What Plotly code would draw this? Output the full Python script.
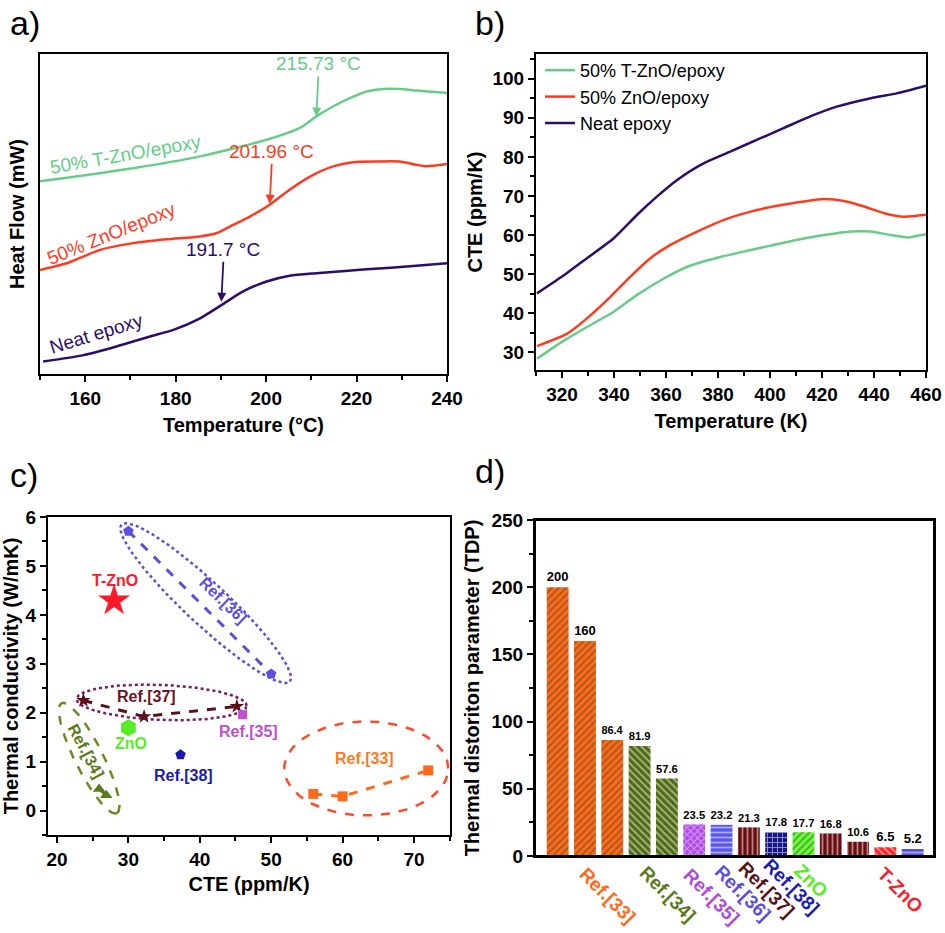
import numpy as np
import plotly.graph_objects as go

W, H = 945, 933
FONT = "Liberation Sans, Arial, sans-serif"

# ---------------- Panel a data (DSC, arbitrary heat-flow units) ----------------
a_T_tzno = [150, 170.6, 185.4, 200.1, 207.5, 211.1, 214.8, 218.5, 222.2, 225.9, 229.5, 233.2, 240]
a_y_tzno = [60.2, 64.3, 68.0, 73.2, 76.9, 80.5, 83.6, 86.2, 88.3, 89.1, 89.1, 88.6, 87.8]
a_T_zno = [150, 155.9, 163.3, 170.6, 178, 185.4, 189, 192.7, 196.4, 200.8, 205.2, 209.7, 214.8, 219.2, 224.4, 229.5, 233.2, 235.4, 240]
a_y_zno = [32.5, 34.6, 38.8, 40.9, 42.1, 43.0, 44.0, 46.6, 49.2, 52.9, 57.6, 61.7, 64.9, 66.2, 66.4, 66.4, 65.4, 64.9, 65.6]
a_T_neat = [150.7, 159.6, 166.9, 174.3, 179.5, 185.4, 190.2, 194.9, 200.1, 205.2, 211.1, 222.2, 233.2, 240]
a_y_neat = [3.9, 5.9, 8.6, 11.7, 13.8, 17.4, 21.6, 25.8, 28.9, 30.7, 31.5, 32.7, 33.8, 34.6]
a_tg = [211.1, 200.8, 190.1]
a_tg_y = [80.5, 53.2, 22.6]
a_tg_labels = ["215.73 °C", "201.96 °C", "191.7 °C"]

# ---------------- Panel b data (CTE) ----------------
b_T_neat = [310.4, 320, 329.6, 339.9, 348.9, 356.6, 364.3, 374.6, 384.9, 395.1, 405.4, 415.7, 426, 438.8, 449.1, 460]
b_y_neat = [45.1, 49.4, 54.1, 59.2, 65.2, 69.9, 74.1, 78.4, 81.4, 84.4, 87.4, 90.4, 92.9, 95.0, 96.3, 98.2]
b_T_zno = [310.4, 322, 329.6, 338.6, 346.3, 354, 361.7, 372, 382.3, 392.6, 402.8, 413.1, 420.8, 428.5, 436.2, 443.9, 451.6, 460]
b_y_zno = [31.6, 34.8, 38.7, 44.2, 49.4, 54.1, 57.5, 60.9, 63.9, 66.0, 67.5, 68.6, 69.2, 68.7, 67.3, 65.6, 64.7, 65.2]
b_T_tzno = [310.4, 320, 329.6, 339.9, 348.9, 359.2, 368.2, 379.7, 390, 400.3, 410.6, 420.8, 431.1, 438.8, 446.5, 452.9, 460]
b_y_tzno = [28.4, 32.7, 36.5, 40.4, 44.7, 48.9, 51.9, 54.2, 55.8, 57.3, 58.8, 60.0, 60.9, 60.9, 60.0, 59.4, 60.2]

# ---------------- Panel c data (TC vs CTE) ----------------
c_tzno_x, c_tzno_y = [28.0], [4.29]
c_r36_x, c_r36_y = [30.0, 50.0], [5.71, 2.79]
c_r37_x, c_r37_y = [23.7, 32.2, 45.2], [2.25, 1.92, 2.13]
c_r35_x, c_r35_y = [46.0], [1.96]
c_zno_x, c_zno_y = [30.0], [1.69]
c_r38_x, c_r38_y = [37.3], [1.14]
c_r34_x, c_r34_y = [25.9, 26.9], [0.44, 0.31]
c_r33_x, c_r33_y = [55.9, 60.0, 72.0], [0.34, 0.29, 0.82]

# ---------------- Panel d data (TDP) ----------------
d_idx = list(range(1, 15))
d_vals = [200, 160, 86.4, 81.9, 57.6, 23.5, 23.2, 21.3, 17.8, 17.7, 16.8, 10.6, 6.5, 5.2]
d_colors = ["#ff6a12", "#ff6a12", "#ff6a12", "#4f6b12", "#4f6b12", "#b04ae8", "#5858f0",
            "#6a0c0c", "#16168a", "#66ff33", "#6a0c0c", "#6a0c0c", "#ff2222", "#5050f0"]
d_patterns = ["/", "/", "/", "\\", "\\", "x", "-", "|", "+", "/", "|", "|", "\\", "-"]
d_group_labels = ["Ref.[33]", "Ref.[34]", "Ref.[35]", "Ref.[36]", "Ref.[37]", "Ref.[38]", "ZnO", "T-ZnO"]
d_group_colors = ["#ff6a1a", "#5a7a1a", "#b24ad8", "#5b4ee0", "#5a0f12", "#1a1ab8", "#55ee22", "#ff1a2a"]
d_group_px = [(607.5, 895), (668.3, 894), (711.7, 896), (743.3, 893),
              (766.7, 889), (791.7, 886), (810.7, 880.7), (900.7, 890)]

GREEN, RED, NAVY = "#66cc88", "#ff3b1f", "#2b0d6b"


def dom_x(a, b):
    return [a / W, b / W]


def dom_y(top, bottom):
    return [1 - bottom / H, 1 - top / H]


fig = go.Figure()

# ---- Panel a traces
for T, y, c in [(a_T_tzno, a_y_tzno, GREEN), (a_T_zno, a_y_zno, RED), (a_T_neat, a_y_neat, NAVY)]:
    fig.add_trace(go.Scatter(x=T, y=y, mode="lines", line=dict(color=c, width=2.5, shape="spline", smoothing=0.6),
                             xaxis="x", yaxis="y", showlegend=False))

# ---- Panel b traces
for T, y, c, name in [(b_T_tzno, b_y_tzno, GREEN, "50% T-ZnO/epoxy"),
                      (b_T_zno, b_y_zno, RED, "50% ZnO/epoxy"),
                      (b_T_neat, b_y_neat, NAVY, "Neat epoxy")]:
    fig.add_trace(go.Scatter(x=T, y=y, mode="lines", name=name,
                             line=dict(color=c, width=2.5, shape="spline", smoothing=0.6),
                             xaxis="x2", yaxis="y2", showlegend=True))

# ---- Panel c: ellipses
SX = 402 / (75.05 - 18.74)
SY = 318 / 6.5


def ellipse(cx, cy, a, b, ang, n=160):
    t = np.linspace(0, 2 * np.pi, n)
    r = np.deg2rad(ang)
    ex, ey = a * np.cos(t), b * np.sin(t)
    return cx + (ex * np.cos(r) - ey * np.sin(r)) / SX, cy + (ex * np.sin(r) + ey * np.cos(r)) / SY


for (cx, cy, a, b, ang, col, dash) in [
    (40.83, 4.24, 115, 21, -43, "#5b4ee0", "dot"),
    (34.66, 2.21, 85, 17.5, -2.3, "#7a1a5a", "dot"),
    (24.51, 1.07, 61.5, 14, -63.4, "#6b8c21", "dash"),
    (63.32, 0.86, 82, 47, 0, "#ff4a2a", "dash"),
]:
    ex, ey = ellipse(cx, cy, a, b, ang)
    fig.add_trace(go.Scatter(x=ex, y=ey, mode="lines", line=dict(color=col, width=2.5, dash=dash),
                             xaxis="x3", yaxis="y3", showlegend=False, hoverinfo="skip"))

# ---- Panel c: series
c_series = [
    (c_r36_x, c_r36_y, "#5b4ee0", "pentagon", 11, "lines+markers", "dash"),
    (c_r37_x, c_r37_y, "#5a0f1a", "star", 11, "lines+markers", "dash"),
    (c_r33_x, c_r33_y, "#ff6a1a", "square", 10, "lines+markers", "dash"),
    (c_r34_x, c_r34_y, "#5a7a1a", "triangle-up", 11, "lines+markers", "dash"),
    (c_r35_x, c_r35_y, "#c050d0", "square", 9, "markers", None),
    (c_r38_x, c_r38_y, "#1a1ab0", "pentagon", 11, "markers", None),
    (c_zno_x, c_zno_y, "#55ee22", "hexagon", 17, "markers", None),
    (c_tzno_x, c_tzno_y, "#ff1a2a", "star", 24, "markers", None),
]
for x, y, col, sym, sz, mode, dash in c_series:
    fig.add_trace(go.Scatter(x=x, y=y, mode=mode, marker=dict(color=col, symbol=sym, size=sz, line=dict(width=0)),
                             line=dict(color=col, width=3, dash=dash or "solid"),
                             xaxis="x3", yaxis="y3", showlegend=False))

# ---- Panel d bars
fig.add_trace(go.Bar(x=d_idx, y=d_vals, width=0.8,
                     marker=dict(color=d_colors, line=dict(width=0),
                                 pattern=dict(shape=d_patterns, fgcolor="#111111", size=5, solidity=0.35)),
                     text=[f"{v:g}" for v in d_vals], textposition="outside",
                     textfont=dict(size=13, color="black", family=FONT, weight="bold"),
                     cliponaxis=False, xaxis="x4", yaxis="y4", showlegend=False))

tickfont = dict(family=FONT, size=19, color="black", weight="bold")
titlefont = dict(family=FONT, size=20, color="black", weight="bold")
frame = dict(showline=True, linecolor="black", linewidth=2, mirror=True, showgrid=False, zeroline=False,
             automargin=False, ticks="outside", ticklen=6, tickwidth=1.5, tickcolor="black", tickfont=tickfont)
minor = lambda d: dict(dtick=d, ticks="outside", ticklen=4, tickwidth=1.5, tickcolor="black")

fig.update_layout(
    width=W, height=H, margin=dict(l=0, r=0, t=0, b=0), paper_bgcolor="white", plot_bgcolor="white",
    font=dict(family=FONT, color="black"),
    xaxis=dict(frame, anchor="y", domain=dom_x(40, 447), range=[150, 240], dtick=20, tick0=160, minor=minor(10),
               title=dict(text="Temperature (°C)", font=titlefont, standoff=10)),
    yaxis=dict(frame, anchor="x", domain=dom_y(54, 374), range=[0, 100], showticklabels=False, ticks="",
               title=dict(text="Heat Flow (mW)", font=titlefont, standoff=8)),
    xaxis2=dict(frame, anchor="y2", domain=dom_x(536, 926), range=[310, 460], dtick=20, tick0=320, minor=minor(10),
                title=dict(text="Temperature (K)", font=titlefont, standoff=10)),
    yaxis2=dict(frame, anchor="x2", domain=dom_y(54, 370), range=[25.5, 106.3], dtick=10, tick0=30, minor=minor(5),
                title=dict(text="CTE (ppm/K)", font=titlefont, standoff=4)),
    xaxis3=dict(frame, anchor="y3", domain=dom_x(48, 450), range=[18.74, 75.05], dtick=10, tick0=20, minor=minor(5),
                title=dict(text="CTE (ppm/K)", font=titlefont, standoff=8)),
    yaxis3=dict(frame, anchor="x3", domain=dom_y(517, 835), range=[-0.5, 6], dtick=1, tick0=0, minor=minor(0.5),
                title=dict(text="Thermal conductivity (W/mK)", font=titlefont, standoff=6)),
    xaxis4=dict(frame, anchor="y4", domain=dom_x(535, 934), range=[0.17, 14.78], showticklabels=False, ticks=""),
    yaxis4=dict(frame, anchor="x4", domain=dom_y(520, 856), range=[0, 250], dtick=50, tick0=0, minor=minor(25),
                title=dict(text="Thermal distoriton parameter (TDP)", font=titlefont, standoff=6)),
    legend=dict(x=540 / W, y=1 - 52 / H, xanchor="left", yanchor="top", bgcolor="rgba(0,0,0,0)",
                font=dict(family=FONT, size=18), tracegroupgap=0, itemwidth=30),
    bargap=0.2,
    shapes=[dict(type="rect", xref="x4 domain", yref="y4 domain", x0=0, x1=1, y0=0, y1=1,
                 line=dict(color="black", width=2), fillcolor="rgba(0,0,0,0)", layer="above")],
)

ann = []
# Panel labels
for txt, px, py in [("a)", 25, 23), ("b)", 490, 23), ("c)", 24, 475), ("d)", 490, 471)]:
    ann.append(dict(text=txt, x=px / W, y=1 - py / H, xref="paper", yref="paper", showarrow=False,
                    font=dict(family=FONT, size=34, color="black"), xanchor="center", yanchor="middle"))

# Panel a: Tg arrows
for T, y, lab, col in zip(a_tg, a_tg_y, a_tg_labels, [GREEN, RED, NAVY]):
    ann.append(dict(x=T, y=y, xref="x", yref="y", text=lab, showarrow=True, arrowhead=2, arrowsize=1,
                    arrowwidth=1.8, arrowcolor=col, ax=2, ay=-40, yanchor="bottom",
                    font=dict(family=FONT, size=19, color=col)))
# Panel a: curve labels
for txt, x, y, ang, col in [("50% T-ZnO/epoxy", 168.8, 68.5, -10, GREEN),
                            ("50% ZnO/epoxy", 165.8, 44.0, -22, RED),
                            ("Neat epoxy", 162.5, 12.7, -17, NAVY)]:
    ann.append(dict(x=x, y=y, xref="x", yref="y", text=txt, showarrow=False, textangle=ang,
                    xanchor="center", yanchor="middle", font=dict(family=FONT, size=19, color=col)))

# Panel c labels
for txt, x, y, col, ang in [("T-ZnO", 28.12, 4.71, "#ff1a2a", 0), ("Ref.[36]", 43.3, 4.30, "#5b4ee0", 44),
                            ("Ref.[37]", 32.47, 2.34, "#6a1520", 0), ("ZnO", 30.32, 1.38, "#55ee22", 0),
                            ("Ref.[38]", 37.69, 0.72, "#1a1ab0", 0), ("Ref.[35]", 46.8, 1.61, "#c050d0", 0),
                            ("Ref.[33]", 63.1, 1.07, "#ff7a20", 0), ("Ref.[34]", 24.06, 1.2, "#5a7a1a", 62)]:
    ann.append(dict(x=x, y=y, xref="x3", yref="y3", text=txt, showarrow=False, textangle=ang,
                    xanchor="center", yanchor="middle",
                    font=dict(family=FONT, size=16, color=col, weight="bold")))

# Panel d category labels
for txt, col, (px, py) in zip(d_group_labels, d_group_colors, d_group_px):
    ann.append(dict(x=px / W, y=1 - py / H, xref="paper", yref="paper", text=txt, showarrow=False,
                    textangle=45, xanchor="center", yanchor="middle",
                    font=dict(family=FONT, size=19, color=col, weight="bold")))

fig.update_layout(annotations=ann)
fig.write_html("out.html", config={"displayModeBar": False},
               post_script="document.body.style.margin='0';document.body.style.overflow='hidden';")
